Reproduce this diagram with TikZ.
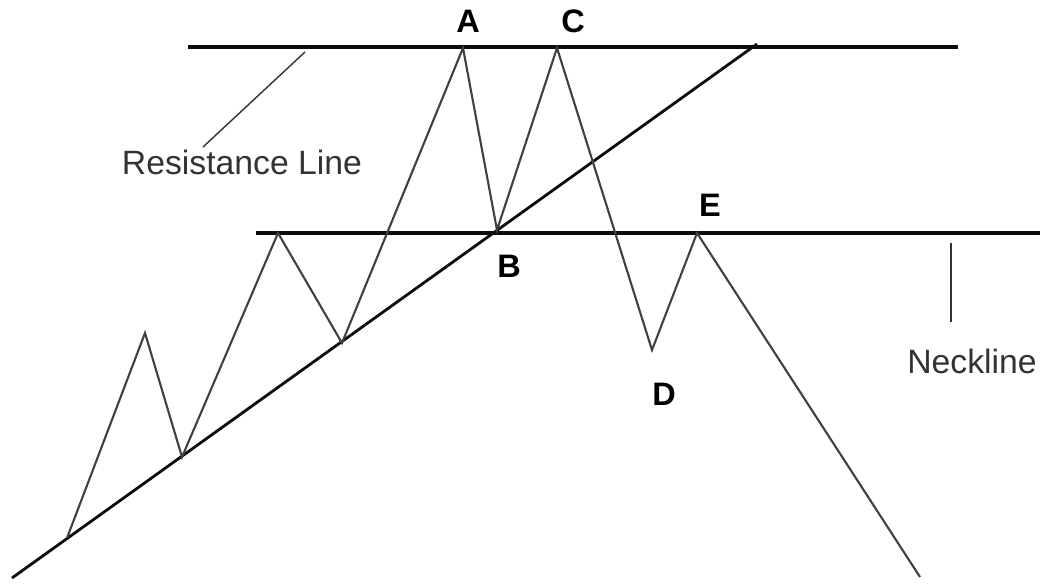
\documentclass[tikz,border=0pt]{standalone}
\usepackage{fontspec}
\setmainfont{Liberation Sans}
\usepackage{xcolor}
\definecolor{chartInk}{gray}{0.05}
\definecolor{priceInk}{gray}{0.25}
\definecolor{noteInk}{gray}{0.2}
\usetikzlibrary{positioning}

\begin{document}
\begin{tikzpicture}[x=0.02cm, y=-0.02cm,
  level/.style={chartInk, line width=1.9pt},
  trend/.style={chartInk, line width=1.6pt},
  price/.style={priceInk, line width=1.2pt, line join=miter},
  pointer/.style={noteInk, line width=0.8pt},
  point/.style={inner sep=0pt, font=\fontsize{18.5}{20}\selectfont\bfseries},
  note/.style={inner sep=0pt, noteInk, font=\fontsize{19.2}{21}\selectfont}]
  \useasboundingbox (0,0) rectangle (1040,585);
  % ------- resistance, neckline and trend -------
  \coordinate (resL) at (188,47);
  \coordinate (resR) at (958,47);
  \coordinate (neckL) at (256,233);
  \coordinate (neckR) at (1040,233);
  \coordinate (trendS) at (12,578);
  \coordinate (trendE) at (757,44);
  \draw[level] (resL) -- (resR);
  \draw[level] (neckL) -- (neckR);
  \draw[trend] (trendS) -- (trendE);
  % ------- price path -------
  \foreach \n/\x/\y in {p0/67/538, p1/145/333, p2/182/457, p3/278/233,
                        p4/342/343, pA/463/48, pB/497/230, pC/557/48,
                        pD/652/350, pE/697/233, p5/920/577} {
    \coordinate (\n) at (\x,\y);
  }
  \draw[price] (p0) -- (p1) -- (p2) -- (p3) -- (p4) -- (pA) -- (pB)
    -- (pC) -- (pD) -- (pE) -- (p5);
  % ------- labels -------
  \node[point] (labA) at (468,21) {A};
  \node[point] (labC) at (573,21) {C};
  \node[point] (labE) at (710,205) {E};
  \node[point] (labB) at (509,266) {B};
  \node[point] (labD) at (664,394) {D};
  \node[note] (resNote) at (242,162) {Resistance Line};
  \node[note] (neckNote) at (972,361) {Neckline};
  \coordinate (resTip) at (305,52);
  \coordinate (resFoot) at (203,147);
  \draw[pointer] (resTip) -- (resFoot);
  \coordinate (neckTip) at (951,243);
  \coordinate (neckFoot) at (951,322);
  \draw[pointer] (neckTip) -- (neckFoot);
\end{tikzpicture}
\end{document}
